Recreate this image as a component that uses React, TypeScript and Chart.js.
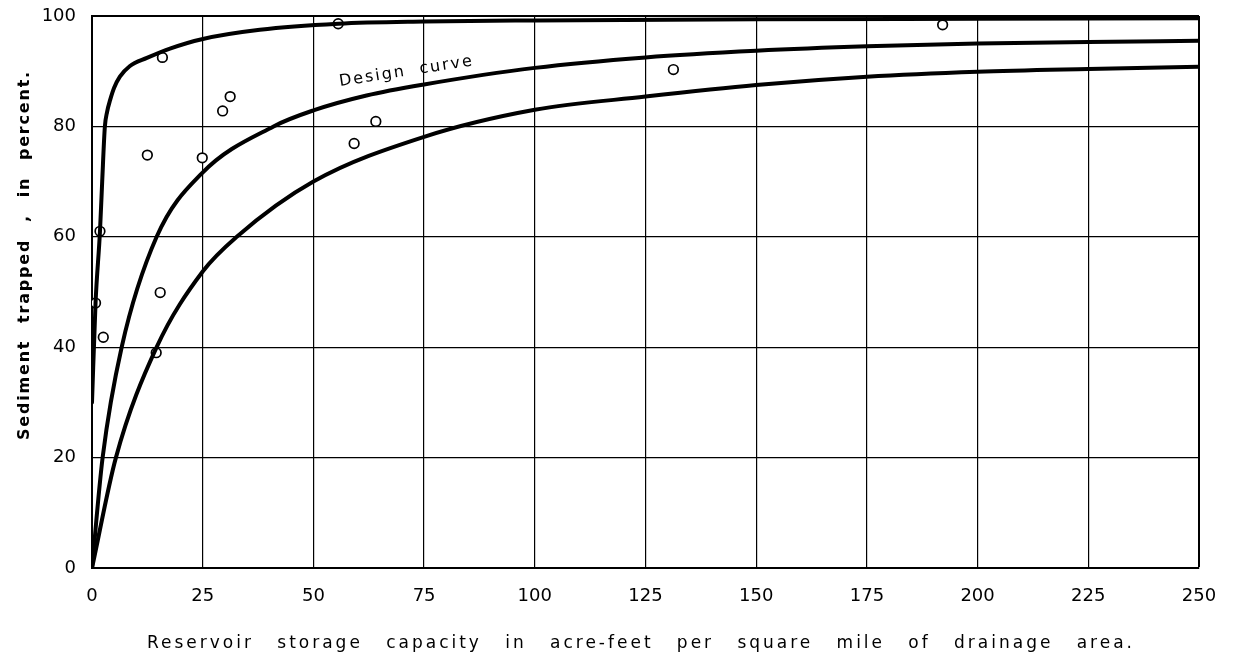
import React, { useEffect, useRef } from "react";
import { Chart, registerables } from "chart.js";

Chart.register(...registerables);

// ---- axis ticks ----
const xTicks = [0, 25, 50, 75, 100, 125, 150, 175, 200, 225, 250];
const yTicks = [0, 20, 40, 60, 80, 100];

// ---- upper envelope curve ----
const upperX = [0, 0.8, 1.8, 2.3, 2.9, 3.4, 4.1, 5.0, 6.3, 8.5, 12.4, 17.6, 24.8, 37.9, 55.6, 75, 100, 150, 200, 250];
const upperY = [30, 48, 61, 70, 79.9, 82.6, 84.8, 87.0, 89.0, 90.9, 92.4, 94.1, 95.8, 97.5, 98.6, 99.0, 99.2, 99.4, 99.5, 99.6];

// ---- design curve ----
const designX = [0, 2.4, 6.7, 14.6, 24.8, 41, 50, 62, 75, 100, 125, 150, 175, 200, 225, 250];
const designY = [0, 20, 40, 60, 71.5, 80, 82.9, 85.6, 87.6, 90.6, 92.5, 93.7, 94.5, 95.0, 95.3, 95.5];

// ---- lower envelope curve ----
const lowerX = [0, 5.4, 14.6, 25, 32.7, 50, 75, 100, 125, 150, 175, 200, 225, 250];
const lowerY = [0, 20, 40, 53.7, 60, 70, 78.1, 83.0, 85.4, 87.5, 89.0, 89.9, 90.4, 90.8];

// ---- observed reservoirs ----
const obsX = [0.8, 1.8, 2.55, 12.5, 14.5, 15.4, 15.9, 24.9, 29.5, 31.2, 55.6, 59.2, 64.1, 131.3, 192.1];
const obsY = [48.0, 61.0, 41.8, 74.8, 39.0, 49.9, 92.5, 74.3, 82.8, 85.4, 98.6, 76.9, 80.9, 90.3, 98.4];

// ---- texts ----
const xTitle = "Reservoir storage capacity in acre-feet per square mile of drainage area.";
const yTitle = "Sediment trapped , in percent.";
const curveLabel = "Design curve";

const pts = (xs: number[], ys: number[]) => xs.map((x, i) => ({ x, y: ys[i] }));

function drawSpaced(ctx: CanvasRenderingContext2D, text: string, x0: number, y: number, total: number, ls: number) {
  const words = text.split(" ");
  (ctx as any).letterSpacing = ls + "px";
  const widths = words.map((w) => ctx.measureText(w).width);
  const sum = widths.reduce((a, b) => a + b, 0);
  const gap = words.length > 1 ? (total - sum) / (words.length - 1) : 0;
  let x = x0;
  ctx.textAlign = "left";
  words.forEach((w, i) => {
    ctx.fillText(w, x, y);
    x += widths[i] + gap;
  });
  (ctx as any).letterSpacing = "0px";
}

const textPlugin = {
  id: "textPlugin",
  afterDraw(chart: any) {
    const ctx: CanvasRenderingContext2D = chart.ctx;
    const xs = chart.scales.x;
    const ys = chart.scales.y;
    ctx.save();
    ctx.fillStyle = "#000";
    ctx.textBaseline = "alphabetic";

    // x axis title
    ctx.font = "17px 'DejaVu Sans'";
    drawSpaced(ctx, xTitle, 147, 648, 988, 3);

    // y axis title (rotated)
    ctx.save();
    ctx.translate(29, 255);
    ctx.rotate(-Math.PI / 2);
    ctx.font = "bold 16px 'DejaVu Sans'";
    drawSpaced(ctx, yTitle, -185, 0, 370, 1.8);
    ctx.restore();

    // design curve label
    ctx.save();
    ctx.translate(xs.getPixelForValue(56), ys.getPixelForValue(87.3));
    ctx.rotate(-0.155);
    ctx.font = "16px 'DejaVu Sans'";
    drawSpaced(ctx, curveLabel, 0, 0, 136, 2);
    ctx.restore();

    ctx.restore();
  },
};

export default function App() {
  const ref = useRef<HTMLCanvasElement | null>(null);

  useEffect(() => {
    if (!ref.current) return;
    const lineDs = (xs: number[], ys: number[]) => ({
      type: "line" as const,
      data: pts(xs, ys),
      borderColor: "#000",
      borderWidth: 4,
      pointRadius: 0,
      fill: false,
      cubicInterpolationMode: "monotone" as const,
      borderCapStyle: "round" as const,
    });
    const chart = new Chart(ref.current, {
      type: "scatter",
      data: {
        datasets: [
          lineDs(upperX, upperY),
          lineDs(designX, designY),
          lineDs(lowerX, lowerY),
          {
            type: "scatter",
            data: pts(obsX, obsY),
            pointRadius: 4.8,
            pointBorderWidth: 1.7,
            pointBackgroundColor: "#fff",
            pointBorderColor: "#000",
          } as any,
          {
            type: "scatter",
            data: pts(obsX, obsY),
            pointRadius: 1.2,
            pointBorderWidth: 0,
            pointBackgroundColor: "#000",
            pointBorderColor: "#000",
          } as any,
        ],
      },
      options: {
        animation: false,
        responsive: false,
        maintainAspectRatio: false,
        layout: { padding: { left: 0, right: 36, top: 16, bottom: 0 } },
        plugins: { legend: { display: false }, tooltip: { enabled: false } },
        scales: {
          x: {
            type: "linear",
            min: 0,
            max: 250,
            afterBuildTicks: (s: any) => {
              s.ticks = xTicks.map((v) => ({ value: v }));
            },
            afterFit: (s: any) => {
              s.height = 89;
              s.paddingLeft = 0;
              s.paddingRight = 0;
            },
            grid: {
              color: "#000",
              lineWidth: (c: any) => (c.tick && c.tick.value === 250 ? 2 : 1.2),
              drawTicks: false,
            },
            border: { color: "#000", width: 2 },
            ticks: {
              color: "#000",
              font: { family: "'DejaVu Sans'", size: 18 },
              padding: 18,
              maxRotation: 0,
              autoSkip: false,
            },
          },
          y: {
            type: "linear",
            min: 0,
            max: 100,
            afterBuildTicks: (s: any) => {
              s.ticks = yTicks.map((v) => ({ value: v }));
            },
            afterFit: (s: any) => {
              s.width = 92;
              s.paddingTop = 0;
              s.paddingBottom = 0;
            },
            grid: {
              color: "#000",
              lineWidth: (c: any) => (c.tick && c.tick.value === 100 ? 2 : 1.2),
              drawTicks: false,
            },
            border: { color: "#000", width: 2 },
            ticks: {
              color: "#000",
              font: { family: "'DejaVu Sans'", size: 18 },
              padding: 16,
              autoSkip: false,
            },
          },
        },
      },
      plugins: [textPlugin],
    });
    return () => chart.destroy();
  }, []);

  return (
    <div style={{ position: "absolute", left: 0, top: 0, width: 1235, height: 657, background: "#fff" }}>
      <canvas ref={ref} width={1235} height={657} style={{ display: "block", width: 1235, height: 657 }} />
    </div>
  );
}
